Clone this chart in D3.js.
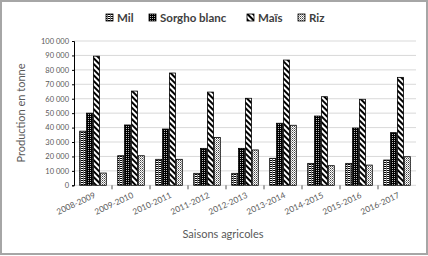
<!DOCTYPE html>
<html><head><meta charset="utf-8">
<script src="https://cdn.jsdelivr.net/npm/d3@7"></script>
<style>body{margin:0;background:#fff}</style>
</head><body>
<svg id="c" width="428" height="256"></svg>
<script>
const categories = ["2008-2009","2009-2010","2010-2011","2011-2012","2012-2013","2013-2014","2014-2015","2015-2016","2016-2017"];
const seriesNames = ["Mil","Sorgho blanc","Maïs","Riz"];
const mil    = [37500, 20500, 18000, 8300, 8300, 18700, 15200, 15200, 17500];
const sorgho = [50000, 41800, 39000, 25600, 25600, 43000, 48000, 39700, 36500];
const mais   = [89500, 65300, 77800, 64600, 60300, 86800, 61400, 59600, 74800];
const riz    = [8500, 20500, 18000, 33200, 24500, 41600, 13600, 14000, 19800];
const yTicks = [0,10000,20000,30000,40000,50000,60000,70000,80000,90000,100000];
const series = [mil, sorgho, mais, riz];

(function(){
const svg = d3.select("#c");
const W = 428, H = 256;
svg.append("rect").attr("x",1).attr("y",1).attr("width",W-2).attr("height",H-3)
  .attr("fill","#fff").attr("stroke","#a6a6a6").attr("stroke-width",2);

const defs = svg.append("defs");
const pMil = defs.append("pattern").attr("id","pMil").attr("patternUnits","userSpaceOnUse").attr("width",3).attr("height",2);
pMil.append("rect").attr("width",3).attr("height",2).attr("fill","#fff");
pMil.append("rect").attr("width",3).attr("height",1).attr("fill","#000");
pMil.append("rect").attr("x",2).attr("width",1).attr("height",2).attr("fill","#777");
const pSor = defs.append("pattern").attr("id","pSor").attr("patternUnits","userSpaceOnUse").attr("width",2).attr("height",2);
pSor.append("rect").attr("width",2).attr("height",2).attr("fill","#000");
pSor.append("rect").attr("width",1).attr("height",1).attr("fill","#bbb");
const pMai = defs.append("pattern").attr("id","pMai").attr("patternUnits","userSpaceOnUse").attr("width",4).attr("height",4)
  .attr("patternTransform","rotate(-45)");
pMai.append("rect").attr("width",4).attr("height",4).attr("fill","#fff");
pMai.append("rect").attr("width",2).attr("height",4).attr("fill","#000");
const pRiz = defs.append("pattern").attr("id","pRiz").attr("patternUnits","userSpaceOnUse").attr("width",2).attr("height",2);
pRiz.append("rect").attr("width",2).attr("height",2).attr("fill","#fff");
pRiz.append("rect").attr("width",1).attr("height",1).attr("fill","#444");
pRiz.append("rect").attr("x",1).attr("y",1).attr("width",1).attr("height",1).attr("fill","#999");
const fills = ["url(#pMil)","url(#pSor)","url(#pMai)","url(#pRiz)"];

const pl = 74, pr = 416, pt = 41, pb = 185.3;
const y = d3.scaleLinear().domain([0,100000]).range([pb, pt]);
const x0 = d3.scaleBand().domain(categories).range([pl, pr]).paddingInner(0.3).paddingOuter(0.15);
const x1 = d3.scaleBand().domain(d3.range(4)).range([0, x0.bandwidth()]).paddingInner(0.12);

const fmt = v => d3.format(",")(v).replace(/,/g, "\u202F");
svg.append("g").selectAll("line").data(yTicks).join("line")
  .attr("x1",pl).attr("x2",pr).attr("y1",d=>y(d)).attr("y2",d=>y(d))
  .attr("stroke","#d9d9d9").attr("stroke-width",1);
const yAxis = svg.append("g").attr("transform",`translate(${pl},0)`)
  .call(d3.axisLeft(y).tickValues(yTicks).tickSize(2).tickFormat(fmt));
yAxis.select(".domain").attr("stroke","#000");
yAxis.selectAll(".tick line").attr("stroke","#000");
yAxis.selectAll("text").attr("font-family","Lato, 'Open Sans', sans-serif").attr("font-size",7.5).attr("fill","#595959").attr("x",-5);

const g = svg.append("g");
categories.forEach((c,i)=>{
  series.forEach((s,j)=>{
    g.append("rect")
      .attr("x", x0(c)+x1(j)).attr("y", y(s[i]))
      .attr("width", x1.bandwidth()).attr("height", pb - y(s[i]))
      .attr("fill", fills[j]).attr("stroke","#000").attr("stroke-width",0.8);
  });
});

const step = x0.step();
const xt = d3.range(1, categories.length).map(i => pl + i*step);
svg.append("g").selectAll("line").data(xt).join("line")
  .attr("x1",d=>d).attr("x2",d=>d).attr("y1",pb).attr("y2",pb+4)
  .attr("stroke","#555").attr("stroke-width",1);

svg.append("g").selectAll("text").data(categories).join("text")
  .attr("transform", d => `translate(${x0(d)+x0.bandwidth()/2+3},${pb+12}) rotate(-25)`)
  .attr("text-anchor","end")
  .attr("font-family","Lato, 'Open Sans', sans-serif").attr("font-size",8.3).attr("fill","#595959")
  .text(d=>d);

svg.append("text").attr("x",223).attr("y",238).attr("text-anchor","middle")
  .attr("font-family","Lato, 'Open Sans', sans-serif").attr("font-size",11).attr("fill","#595959")
  .text("Saisons agricoles");
svg.append("text").attr("transform","translate(25,113) rotate(-90)").attr("text-anchor","middle")
  .attr("font-family","Lato, 'Open Sans', sans-serif").attr("font-size",11).attr("fill","#595959")
  .text("Production en tonne");

const legX = [106, 149, 247, 298];
const leg = svg.append("g");
seriesNames.forEach((n,j)=>{
  leg.append("rect").attr("x",legX[j]).attr("y",14).attr("width",7).attr("height",7)
    .attr("fill",fills[j]).attr("stroke","#000").attr("stroke-width",0.8);
  leg.append("text").attr("x",legX[j]+11).attr("y",21.5)
    .attr("font-family","Lato, 'Open Sans', sans-serif").attr("font-size",11.5).attr("font-weight","bold").attr("fill","#404040")
    .text(n);
});
})();
</script>
</body></html>
